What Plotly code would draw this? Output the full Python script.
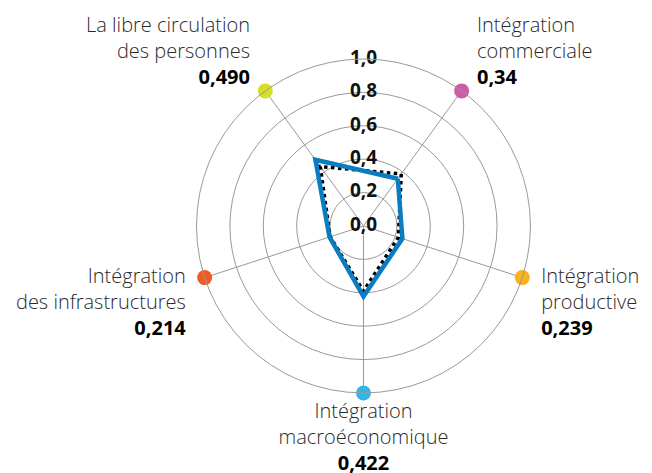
import plotly.graph_objects as go

# ---- data ----
categories = [["Intégration", "commerciale"], ["Intégration", "productive"],
              ["Intégration", "macroéconomique"], ["Intégration", "des infrastructures"],
              ["La libre circulation", "des personnes"]]
value_labels = ["0,34", "0,239", "0,422", "0,214", "0,490"]
blue_values = [0.35, 0.245, 0.422, 0.214, 0.49]
dotted_values = [0.385, 0.22, 0.39, 0.21, 0.44]
dot_colors = ["#cc5ca6", "#f8b31a", "#35b5e7", "#f15a25", "#d6df27"]
radial_ticks = [0.0, 0.2, 0.4, 0.6, 0.8, 1.0]
radial_tick_labels = ["0,0", "0,2", "0,4", "0,6", "0,8", "1,0"]

# label placement styles
text_positions = ["top right", "middle right", "bottom center", "middle left", "top left"]
anchor_sizes = [1, 15, 15, 15, 1]
leading_breaks = ["", "<br><br>", "", "<br><br>", ""]
pad_left = ["\u00a0\u00a0\u2009", "\u00a0\u2009", "", "", ""]
pad_right = ["", "", "", "\u00a0\u2009", "\u00a0\u00a0\u2009"]

n = len(categories)
step = 360 / n
theta = [step * i + step / 2 for i in range(n)]  # axes at 36°,108°,...

GRID = "#9a9a9a"
FONT = "Open Sans"

fig = go.Figure()

# data lines
fig.add_trace(go.Scatterpolar(
    r=dotted_values + dotted_values[:1], theta=theta + theta[:1], mode="lines",
    line=dict(color="#000000", width=3.5, dash="dot"), hoverinfo="skip"))
fig.add_trace(go.Scatterpolar(
    r=blue_values + blue_values[:1], theta=theta + theta[:1], mode="lines",
    line=dict(color="#0a7cc1", width=4.5), hoverinfo="skip"))

# colored dots
fig.add_trace(go.Scatterpolar(
    r=[1.0] * n, theta=theta, mode="markers",
    marker=dict(size=15, color=dot_colors),
    cliponaxis=False, hoverinfo="skip"))

# category labels
labels = []
for i in range(n):
    lines = [pad_left[i] + ln + pad_right[i] for ln in categories[i]]
    lines.append(f"{pad_left[i]}<b><span style='color:#000'>{value_labels[i]}</span></b>{pad_right[i]}")
    labels.append(leading_breaks[i] + "<br>".join(lines))

fig.add_trace(go.Scatterpolar(
    r=[1.0] * n, theta=theta, mode="markers+text",
    marker=dict(size=anchor_sizes, color="rgba(0,0,0,0)", opacity=0),
    text=labels, textposition=text_positions,
    textfont=dict(family=FONT, size=20, color="#2a2a2a", weight=300),
    cliponaxis=False, hoverinfo="skip"))

# radial tick labels along the vertical axis
fig.add_trace(go.Scatterpolar(
    r=radial_ticks, theta=[0] * len(radial_ticks), mode="text",
    text=[f"<b>{t}</b>" for t in radial_tick_labels], textposition="middle center",
    textfont=dict(family=FONT, size=19, color="#111111"),
    cliponaxis=False, hoverinfo="skip"))

fig.update_layout(
    width=652, height=473,
    margin=dict(l=0, r=0, t=0, b=0),
    paper_bgcolor="white",
    showlegend=False,
    polar=dict(
        domain=dict(x=[0.2891, 0.8013], y=[0.1861, 0.8922]),
        bgcolor="white",
        angularaxis=dict(
            type="linear", thetaunit="degrees", direction="clockwise", rotation=90,
            tickvals=theta, showticklabels=False, ticks="",
            showgrid=True, gridcolor=GRID, gridwidth=1,
            showline=True, linecolor=GRID, linewidth=1),
        radialaxis=dict(
            range=[0, 1], tickvals=radial_ticks[1:], showticklabels=False, ticks="",
            showgrid=True, gridcolor=GRID, gridwidth=1, showline=False),
    ),
)

fig.write_html("out.html")
